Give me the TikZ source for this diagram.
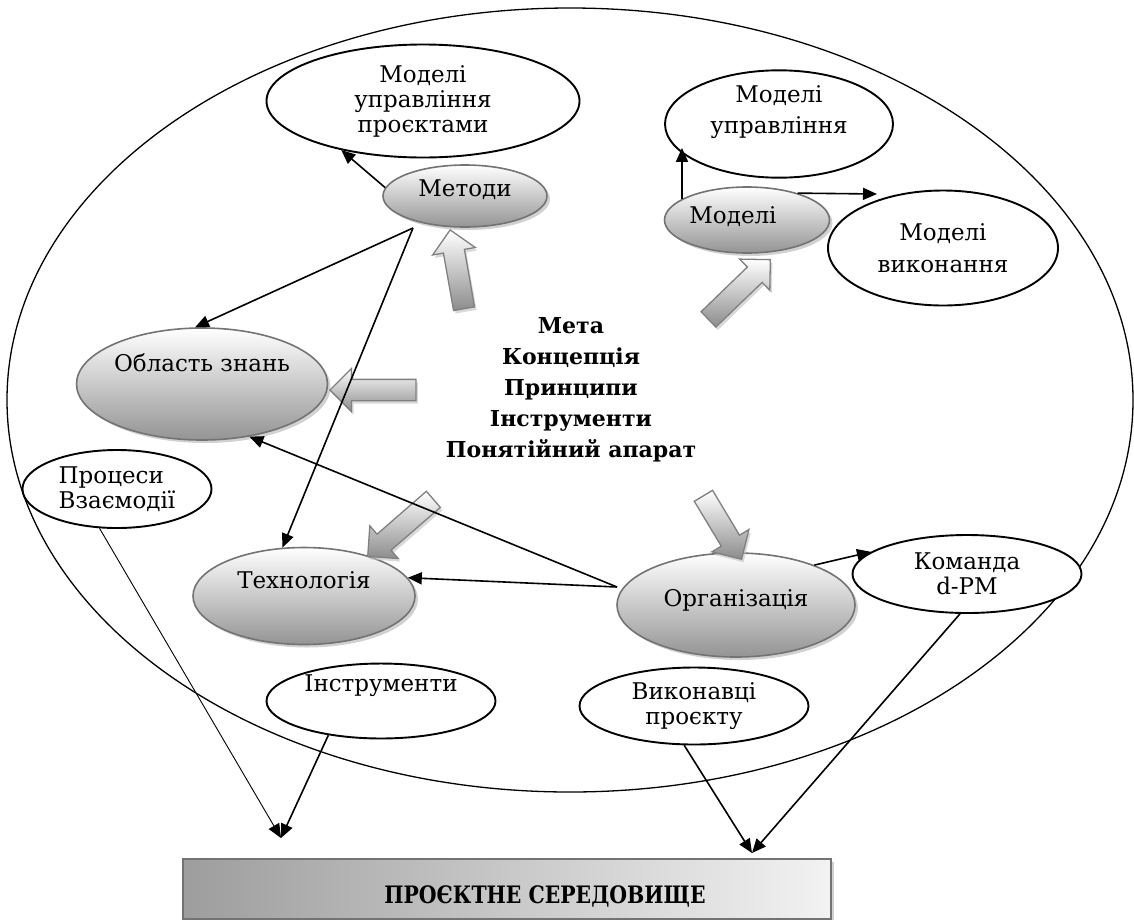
\documentclass[tikz,border=0pt]{standalone}
\usepackage{fontspec}
\setmainfont{DejaVu Serif}
\usetikzlibrary{arrows.meta,shapes.geometric,shapes.arrows,shadows}
\pgfdeclarehorizontalshading{envfill}{100bp}{color(0bp)=(black!55); color(75bp)=(black!5); color(100bp)=(black!40)}

\begin{document}
\begin{tikzpicture}[x=1pt, y=-1pt,
  font=\fontsize{23}{25}\selectfont,
  oval/.style={ellipse, draw, line width=1.9pt, fill=white, inner sep=0pt, align=center},
  bubble/.style={ellipse, draw=black!55, line width=1.6pt, top color=white, bottom color=black!42,
    inner sep=0pt, text height=17pt,
    drop shadow={shadow xshift=3pt, shadow yshift=-3pt, fill=black!30, opacity=.6}},
  link/.style={-{Triangle[length=14pt,width=12pt]}, line width=1.6pt},
  fatarrow/.style={single arrow, draw=black!50, line width=1.3pt, top color=white, bottom color=black!45,
    inner xsep=0pt, inner ysep=10pt, single arrow head extend=11pt, minimum height=#1, anchor=tip,
    drop shadow={shadow xshift=2pt, shadow yshift=-3pt, fill=black!25, opacity=.6}}]

\useasboundingbox (0,0) rectangle (1134,919);

% outer field
\draw[line width=1.3pt] (570,400) ellipse [x radius=563pt, y radius=392pt];

% ovals
\node[oval, minimum width=313pt, minimum height=113pt] (mup) at (423,101) {Моделі\\управління\\проєктами};
\node[bubble, minimum width=164pt, minimum height=62pt, text depth=16pt] (metody) at (465,196) {Методи};
\node[oval, minimum width=228pt, minimum height=96pt] (mu) at (779,124) {Моделі\\[6pt]управління\\[3pt]\mbox{}};
\node[bubble, minimum width=165pt, minimum height=66pt, text depth=10pt] (modeli) at (747,220) {Моделі\hspace*{28pt}};
\node[oval, minimum width=230pt, minimum height=115pt] (mv) at (943,248) {Моделі\\[7pt]виконання};
\node[bubble, minimum width=251pt, minimum height=112pt, text depth=42pt] (obl) at (202,384) {Область знань};
\node[oval, minimum width=189pt, minimum height=78pt, align=left] (proc) at (117,489) {Процеси\\Взаємодії};
\node[bubble, minimum width=222pt, minimum height=97pt, text depth=32pt] (tech) at (304,596) {Технологія};
\node[bubble, minimum width=238pt, minimum height=104pt, text depth=14pt] (org) at (736,605) {Організація};
\node[oval, minimum width=229pt, minimum height=78pt] (kom) at (967,574) {Команда\\d-PM};
\node[oval, minimum width=229pt, minimum height=72pt, text height=17pt, text depth=36pt] (instr) at (381,701) {Інструменти};
\node[oval, minimum width=229pt, minimum height=77pt] (vyk) at (694,706) {Виконавці\\проєкту};

% centre
\node[font=\fontsize{22}{31}\selectfont\bfseries, align=center] (core) at (571,390)
  {Мета\\Концепція\\Принципи\\Інструменти\\Понятійний апарат};

% block arrows
\node[fatarrow=80pt, rotate=100] (up1) at (450,229) {};
\node[fatarrow=86pt, rotate=44] (up2) at (771,259) {};
\node[fatarrow=86pt, rotate=180] (left1) at (329,390) {};
\node[fatarrow=87pt, rotate=221] (down1) at (367,557) {};
\node[fatarrow=74pt, rotate=-59] (down2) at (742,560) {};

% environment
\node[draw=black!55, line width=1.5pt, shade, shading=envfill, minimum width=648pt, minimum height=60pt,
  text height=29pt, text depth=0pt, inner sep=0pt, font=\fontsize{24}{26}\selectfont\bfseries,
  drop shadow={shadow xshift=3pt, shadow yshift=-3pt, fill=black!30, opacity=.6}] (env) at (507,889)
  {\hspace*{76pt}\scalebox{0.85}[1]{ПРОЄКТНЕ СЕРЕДОВИЩЕ}};

% links
\coordinate (mfork) at (413,228);
\coordinate (ofork) at (617,587);
\coordinate (mvout) at (877,194);
\coordinate (envL) at (281,838);
\coordinate (envR) at (752,853);

\draw[link] (metody.174) -- (mup.211);
\draw[link] (mfork) -- (obl.97);
\draw[link] (mfork) -- (tech.114);
\draw[link] (modeli.162) -- (modeli.162 |- mu.193);
\draw[link] (modeli.28) -- (mvout);
\draw[link] (ofork) -- (tech.10);
\draw[link] (ofork) -- (obl.-48);
\draw[link] (org.27) -- (kom.167);
\draw[link, line width=0.9pt] (proc.246) -- (envL);
\draw[link] (instr.213) -- (envL);
\draw[link] (vyk.256) -- (envR);
\draw[link] (kom.260) -- (envR);
\end{tikzpicture}
\end{document}
